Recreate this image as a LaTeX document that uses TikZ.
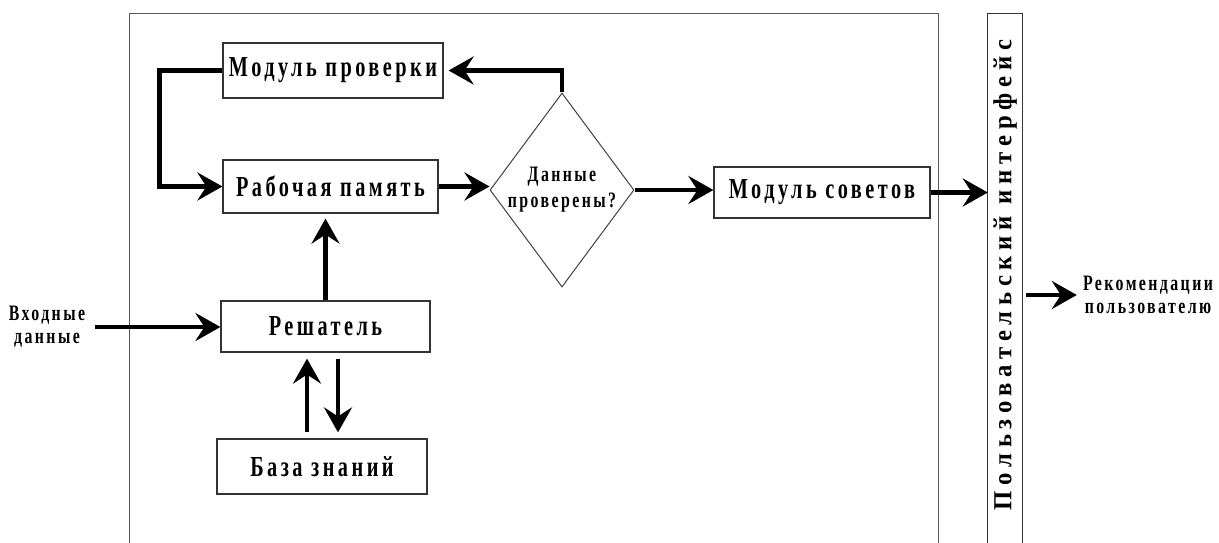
\documentclass[tikz,border=0pt]{standalone}
\usepackage{fontspec}
\setmainfont{Liberation Serif}
\newfontfamily\boxfont{Liberation Serif}[FakeStretch=0.7, LetterSpace=12]
\newfontfamily\smallfont{Liberation Serif}[FakeStretch=0.72, LetterSpace=11]
\newfontfamily\sidefont{Liberation Serif}[FakeStretch=0.95, LetterSpace=22]
\usetikzlibrary{shapes.geometric, arrows.meta}

\tikzset{
  block/.style={draw=black!80, line width=1.2pt, fill=white, inner sep=0pt,
    font=\boxfont\bfseries\fontsize{29}{32}\selectfont},
  decision/.style={diamond, draw=black!75, line width=1pt, inner sep=-5pt,
    minimum width=144pt, minimum height=194pt, align=center,
    font=\smallfont\bfseries\fontsize{22}{26}\selectfont},
  smalltext/.style={align=center, inner sep=0pt,
    font=\smallfont\bfseries\fontsize{22}{23}\selectfont},
  sidetext/.style={inner sep=0pt, font=\sidefont\bfseries\fontsize{26}{28}\selectfont},
  frameline/.style={draw=black!65, line width=1.2pt},
  arr/.style={line width=4.3pt, -{Stealth[length=25pt, width=28pt, inset=9pt]}}
}

\begin{document}
\begin{tikzpicture}[x=1pt, y=-1pt]
  \useasboundingbox (0,0) rectangle (1219,543);

  % outer system frame and user interface strip (open at the bottom)
  \node[inner sep=0pt, minimum width=808pt, minimum height=529pt] (frame) at (534,278.5) {};
  \draw[frameline] (frame.south west) -- (frame.north west) -- (frame.north east) -- (frame.south east);
  \node[inner sep=0pt, minimum width=34pt, minimum height=529pt] (ui) at (1005,278.5) {};
  \draw[frameline, draw=black!80] (ui.south west) -- (ui.north west) -- (ui.north east) -- (ui.south east);
  \node[sidetext, rotate=90] (uitext) at (1005,275) {Пользовательский интерфейс};

  % blocks
  \node[block, minimum width=220pt, minimum height=55pt] (mp) at (333,70.5) {Модуль проверки};
  \node[block, minimum width=215pt, minimum height=53pt] (rp) at (330.5,186.5) {Рабочая память};
  \node[decision] (dec) at (562,190) {Данные\\проверены?};
  \node[block, minimum width=216pt, minimum height=51pt] (ms) at (822,192.5) {Модуль советов};
  \node[block, minimum width=209pt, minimum height=51pt] (rs) at (325.5,326.5) {Решатель};
  \node[block, minimum width=210pt, minimum height=55pt] (bz) at (322,466.5) {База знаний};

  % outside labels
  \node[smalltext] (inp) at (47,327) {Входные\\данные};
  \node[smalltext] (rec) at (1148,295) {Рекомендации\\пользователю};

  % connectors
  \draw[arr] (mp.west) -- ++(-63,0) |- (rp.west);
  \draw[arr, shorten >=5pt] (dec.north) |- (mp.east);
  \draw[arr] (rp.east) -- (rp.east -| dec.west);
  \draw[arr] (dec.east) -- (dec.east -| ms.west);
  \draw[arr] (ms.east) -- (ms.east -| ui.west);
  \draw[arr, shorten >=5pt] (rs.north) -- (rs.north |- rp.south);
  \draw[arr, shorten <=6pt, shorten >=6pt] ([xshift=-15pt]bz.north) -- ([xshift=-15pt]bz.north |- rs.south);
  \draw[arr, shorten <=6pt, shorten >=6pt] ([xshift=12.5pt]rs.south) -- ([xshift=12.5pt]rs.south |- bz.north);
  \draw[arr, shorten <=10pt] (inp.east) -- (inp.east -| rs.west);
  \draw[arr, shorten <=4pt, shorten >=6pt] (ui.east |- rec.west) -- (rec.west);
\end{tikzpicture}
\end{document}
